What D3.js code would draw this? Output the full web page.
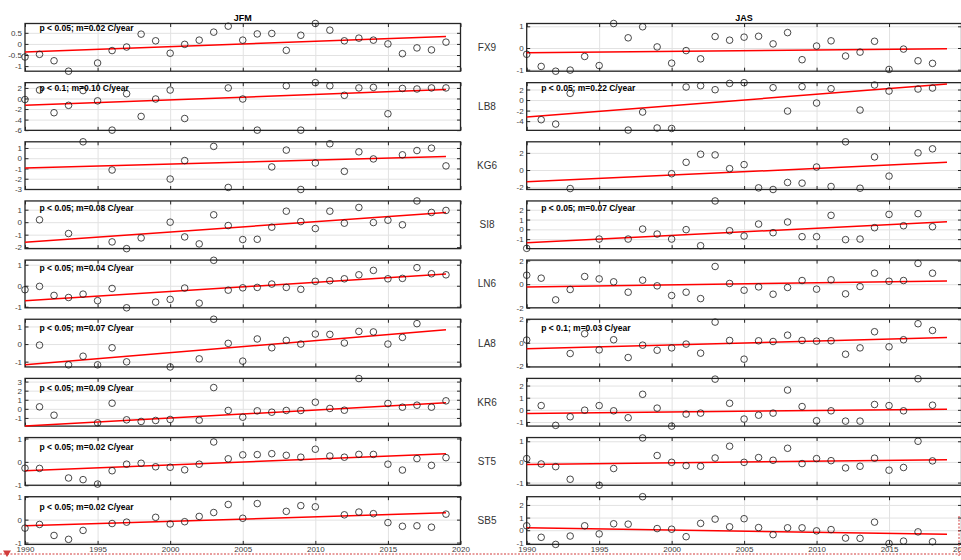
<!DOCTYPE html>
<html>
<head>
<meta charset="utf-8">
<script src="https://d3js.org/d3.v7.min.js"></script>
<style>
  body { margin: 0; background: #fff; }
  svg { display: block; font-family: "Liberation Sans", Arial, Helvetica, sans-serif; }
  .tick text { fill: #404040; font-size: 8px; }
</style>
</head>
<body>
<svg width="961" height="560"></svg>
<script>
// years on the x axis
var years = [1990, 1991, 1992, 1993, 1994, 1995, 1996, 1997, 1998, 1999,
             2000, 2001, 2002, 2003, 2004, 2005, 2006, 2007, 2008, 2009,
             2010, 2011, 2012, 2013, 2014, 2015, 2016, 2017, 2018, 2019];
var stations = ["FX9", "LB8", "KG6", "SI8", "LN6", "LA8", "KR6", "ST5", "SB5"];
var seasons = ["JFM", "JAS"];
var xTickYears = [1990, 1995, 2000, 2005, 2010, 2015, 2020];

// JFM anomalies (one value per year, null = no data)
var jfmFX9 = [-0.59, -0.47, -0.76, -1.23, null, -0.86, -0.30, -0.14, 0.44, 0.14, -0.42, -0.02, 0.17, 0.53, 0.80, 0.17, 0.45, 0.47, -0.29, 0.39, 0.92, 0.62, 0.14, 0.26, 0.17, 0.00, -0.44, -0.18, -0.27, 0.08];
var jfmLB8 = [-0.2, 1.6, -2.7, -1.3, 1.5, -0.45, -6.0, 0.9, -3.4, -0.1, 1.6, -3.8, null, null, 2.0, -0.1, -6.0, null, 2.4, -6.0, 3.0, 2.4, 0.6, 2.0, 2.1, -2.9, 1.9, 1.8, 2.0, 2.0];
var jfmKG6 = [null, null, null, null, 1.6, null, -1.15, null, null, null, -2.03, -0.23, null, 1.15, -2.85, null, null, -0.85, 0.79, -3.05, -0.46, 1.41, -1.28, 0.62, -0.07, null, 0.33, 0.75, 0.98, -0.75];
var jfmSI8 = [null, 0.19, null, -0.91, null, null, -1.58, -2.12, -1.26, null, 0.00, -1.18, -1.74, 0.59, -0.27, -1.39, -1.37, -0.40, 0.88, 0.05, -0.51, 0.88, -0.08, 1.18, -0.03, 0.16, -0.21, 1.70, 0.78, 0.94];
var jfmLN6 = [-0.19, -0.03, -0.46, -0.56, -0.40, -0.71, -0.13, -1.05, null, -0.78, -0.65, -0.11, -0.83, 1.21, -0.21, -0.10, -0.08, 0.08, -0.08, -0.17, 0.21, 0.24, 0.33, 0.52, 0.73, 0.33, 0.35, 0.86, 0.57, 0.52];
var jfmLA8 = [null, -0.06, null, -1.18, -0.69, -1.18, -0.21, -1.01, null, null, -1.30, null, -0.84, 1.41, 0.04, -0.97, 0.29, -0.21, 0.21, 0.00, 0.57, 0.55, 0.06, 0.72, 0.69, 0.00, 0.38, 1.16, null, null];
var jfmKR6 = [null, 0.22, -0.70, null, null, -1.54, 0.62, -1.21, -1.39, -1.28, -1.17, null, -1.25, 2.34, -0.18, -0.92, -0.22, -0.37, -0.18, -0.18, 0.73, 0.04, -0.15, 3.33, null, 0.59, 0.18, 0.40, 0.18, 0.88];
var jfmST5 = [-0.27, -0.28, null, -0.69, -0.76, -0.95, -0.38, -0.10, -0.06, -0.21, -0.23, -0.34, -0.10, 0.85, 0.13, 0.30, 0.31, 0.35, 0.28, 0.20, 0.54, 0.25, 0.20, 0.32, 0.32, -0.10, -0.35, 0.14, -0.15, 0.18];
var jfmSB5 = [-0.37, -0.21, -0.69, -0.86, -0.47, null, -0.17, -0.11, null, 0.10, -0.19, -0.09, 0.14, 0.31, 0.66, 0.06, 0.70, null, 0.36, 0.61, 0.56, null, 0.21, 0.33, 0.26, -0.13, -0.29, -0.27, -0.33, 0.24];

// JAS anomalies
var jasFX9 = [-0.29, -0.85, -1.07, -1.02, -0.39, -0.81, 1.13, 0.47, 0.98, 0.05, -0.70, -0.12, -0.50, 0.53, 0.36, 0.50, 0.54, 0.19, 0.71, -0.54, 0.09, 0.33, -0.37, -0.19, 0.31, -0.99, -0.05, -0.59, -0.71, null];
var jasLB8 = [null, -3.73, -4.56, 1.27, null, null, null, -5.7, -2.28, -5.3, -5.4, 2.47, 2.72, 1.96, 3.16, 3.29, null, 2.34, -2.09, 2.53, -0.57, 2.15, null, -1.90, 2.85, 1.71, null, 2.09, 2.28, null];
var jasKG6 = [null, null, null, -2.16, null, null, null, null, null, null, -0.43, 0.90, 1.84, 1.76, 0.16, 0.63, -2.08, -2.27, -1.45, -1.53, 0.35, -1.92, 3.29, -2.12, 1.53, -0.71, null, 2.00, 2.47, null];
var jasSI8 = [-1.94, null, null, null, null, -0.99, null, -0.99, 0.03, -0.48, -0.99, -0.03, -1.67, 2.90, -0.14, -0.68, 0.54, -0.34, 0.75, -0.75, -0.75, 1.43, -1.05, -0.99, 0.17, 1.53, 0.37, 1.60, 0.27, null];
var jasLN6 = [0.76, 0.51, -1.33, -0.45, 0.65, 0.45, 0.20, -0.68, 0.34, -0.14, -0.96, -0.68, -1.22, 1.50, 0.06, -0.51, -0.23, -0.85, -0.28, 0.31, -0.42, 0.37, -0.82, -0.20, 0.93, 0.25, 0.31, 1.76, 0.93, null];
var jasLA8 = [0.23, null, null, -0.91, 0.77, -0.60, 0.26, -1.25, -0.20, -0.63, -0.43, -0.11, -0.88, 1.76, 0.20, -1.39, 0.17, 0.11, 0.65, 0.20, 0.14, 0.17, -0.97, -0.43, 0.94, -0.34, 0.26, 1.62, 1.05, null];
var jasKR6 = [null, 0.35, -1.28, -0.57, -0.03, 0.35, -0.08, -0.65, 1.28, 0.14, -1.34, -0.35, -0.27, 2.53, 0.54, -0.76, -0.44, -0.27, 1.63, 0.27, -0.90, -0.08, -0.93, -0.93, 0.44, 0.35, -0.08, 2.56, 0.38, null];
var jasST5 = [0.16, -0.10, -0.23, -0.84, null, -1.13, -0.32, null, 1.16, 0.31, -0.02, -0.18, -0.21, 0.19, 0.76, -0.02, 0.21, 0.08, 0.66, -0.08, 0.16, 0.06, -0.29, -0.21, 0.18, -0.40, -0.27, 1.00, 0.05, null];
var jasSB5 = [0.35, -0.56, -1.12, -0.46, 0.35, -0.29, 0.51, 0.48, 2.65, 0.13, 0.08, -0.51, 0.54, 0.88, 0.27, 0.91, 0.21, -0.35, 0.19, 0.19, -0.05, 0.05, -0.62, -0.64, 0.64, -1.05, -0.86, -0.13, -0.91, null];

// fitted trend: value at 1990 and at 2019
var jfmTrend = [[-0.36, 0.33], [-1.3, 1.7], [-0.95, 0.16], [-1.61, 0.78], [-0.71, 0.56], [-1.18, 0.82], [-1.9, 0.66], [-0.38, 0.35], [-0.27, 0.30]];
var jasTrend = [[-0.22, -0.03], [-3.23, 3.04], [-1.37, 0.90], [-1.36, 0.78], [-0.23, 0.28], [-0.51, 0.45], [-0.30, 0.05], [-0.13, 0.11], [0.19, -0.32]];

// y limits and y ticks of each panel
var jfmYlim = [[-1.23, 0.92], [-6.04, 3.0], [-3.05, 1.6], [-2.12, 1.7], [-1.05, 1.22], [-1.30, 1.41], [-1.9, 3.35], [-1.0, 1.04], [-1.08, 1.0]];
var jasYlim = [[-1.07, 1.13], [-5.75, 3.3], [-2.27, 3.29], [-1.97, 2.9], [-2.0, 2.04], [-2.05, 2.0], [-1.34, 2.59], [-1.13, 1.18], [-1.12, 2.65]];
var jfmYticks = [[-1, -0.5, 0, 0.5], [-6, -4, -2, 0, 2], [-3, -2, -1, 0, 1], [-2, -1, 0, 1], [-1, 0, 1], [-1, 0, 1], [-1, 0, 1, 2, 3], [-1, 0, 1], [-1, 0, 1]];
var jasYticks = [[-1, 0, 1], [-4, -2, 0, 2], [-2, 0, 2], [-1, 0, 1, 2], [-2, 0, 2], [-2, 0, 2], [-1, 0, 1, 2], [-1, 0, 1], [-1, 0, 1, 2]];

// significance notes
var jfmNotes = ["p < 0.05; m=0.02 C/year", "p < 0.1; m=0.10 C/year", "", "p < 0.05; m=0.08 C/year", "p < 0.05; m=0.04 C/year",
                "p < 0.05; m=0.07 C/year", "p < 0.05; m=0.09 C/year", "p < 0.05; m=0.02 C/year", "p < 0.05; m=0.02 C/year"];
var jasNotes = ["", "p < 0.05; m=0.22 C/year", "", "p < 0.05; m=0.07 C/year", "", "p < 0.1; m=0.03 C/year", "", "", ""];

var jfmValues = [jfmFX9, jfmLB8, jfmKG6, jfmSI8, jfmLN6, jfmLA8, jfmKR6, jfmST5, jfmSB5];
var jasValues = [jasFX9, jasLB8, jasKG6, jasSI8, jasLN6, jasLA8, jasKR6, jasST5, jasSB5];

//----- layout -----
var svgwidth = 961, svgheight = 560;
var colRange = [[25, 460.5], [526.7, 961.5]];
var top0 = 23.5, pitch = 59.15, ph = 47.7;
var tickLen = 3.5;

var svg = d3.select("svg");
var fmt = function(d) { return String(d); };   // plain hyphen minus like MATLAB

function drawPanel(col, row, values, trend, ylim, yticks, note) {
  var top = top0 + row * pitch;
  var x = d3.scaleLinear().domain([1990, 2020]).range(colRange[col]);
  var y = d3.scaleLinear().domain(ylim).range([top + ph, top]);
  var x0 = colRange[col][0], x1 = colRange[col][1];
  var g = svg.append("g");

  // grid lines
  g.append("g")
    .attr("transform", "translate(0," + (top + ph) + ")")
    .call(d3.axisBottom(x).tickValues([1995, 2000, 2005, 2010, 2015]).tickSize(-ph).tickFormat(""))
    .call(function(s) { s.select(".domain").remove(); s.selectAll("line").attr("stroke", "#e2e2e2").attr("stroke-width", 1); });
  g.append("g")
    .attr("transform", "translate(" + x0 + ",0)")
    .call(d3.axisLeft(y).tickValues(yticks).tickSize(-(x1 - x0)).tickFormat(""))
    .call(function(s) { s.select(".domain").remove(); s.selectAll("line").attr("stroke", "#e2e2e2").attr("stroke-width", 1); });

  // inward ticks on all four sides
  var left = g.append("g")
    .attr("transform", "translate(" + x0 + ",0)")
    .call(d3.axisLeft(y).tickValues(yticks).tickSize(-tickLen).tickPadding(3).tickFormat(fmt));
  g.append("g")
    .attr("transform", "translate(" + x1 + ",0)")
    .call(d3.axisRight(y).tickValues(yticks).tickSize(-tickLen).tickFormat(""));
  g.append("g")
    .attr("transform", "translate(0," + top + ")")
    .call(d3.axisTop(x).tickValues(xTickYears).tickSize(-tickLen).tickFormat(""));
  var bottom = g.append("g")
    .attr("transform", "translate(0," + (top + ph) + ")")
    .call(d3.axisBottom(x).tickValues(xTickYears).tickSize(-tickLen).tickPadding(2)
      .tickFormat(row === stations.length - 1 ? fmt : ""));
  g.selectAll(".domain").remove();
  g.selectAll(".tick line").filter(function() { return d3.select(this).attr("stroke") === "currentColor"; })
    .attr("stroke", "#262626");
  g.selectAll(".tick text").attr("font-size", 8).attr("fill", "#404040")
    .attr("font-family", "Liberation Sans, Arial, sans-serif");

  // box
  g.append("rect")
    .attr("x", x0).attr("y", top)
    .attr("width", x1 - x0).attr("height", ph)
    .attr("fill", "none").attr("stroke", "#262626").attr("stroke-width", 1.3);

  // trend line
  var line = d3.line().x(function(d) { return x(d[0]); }).y(function(d) { return y(d[1]); });
  g.append("path")
    .datum([[years[0], trend[0]], [years[years.length - 1], trend[1]]])
    .attr("d", line)
    .attr("fill", "none").attr("stroke", "#ff0000").attr("stroke-width", 1.5);

  // yearly points
  var pts = years.map(function(yr, i) { return {year: yr, v: values[i]}; })
    .filter(function(d) { return d.v !== null; });
  g.selectAll("circle.pt")
    .data(pts)
    .enter().append("circle")
    .attr("class", "pt")
    .attr("cx", function(d) { return x(d.year); })
    .attr("cy", function(d) { return y(d.v); })
    .attr("r", 3.3)
    .attr("fill", "none").attr("stroke", "#1a1a1a").attr("stroke-width", 0.8);

  // note
  if (note) {
    g.append("text")
      .attr("x", x0 + 14.5)
      .attr("y", top + 5 + 0.7 * row)
      .attr("dy", "0.35em")
      .attr("font-size", 8.5).attr("font-weight", "bold").attr("fill", "#000")
      .text(note);
  }
}

for (var r = 0; r < stations.length; r++) {
  drawPanel(0, r, jfmValues[r], jfmTrend[r], jfmYlim[r], jfmYticks[r], jfmNotes[r]);
  drawPanel(1, r, jasValues[r], jasTrend[r], jasYlim[r], jasYticks[r], jasNotes[r]);

  // station name between the columns
  svg.append("text")
    .attr("x", 487).attr("y", top0 + r * pitch + ph / 2)
    .attr("dy", "0.35em").attr("text-anchor", "middle")
    .attr("font-size", 10).attr("fill", "#333")
    .text(stations[r]);
}

// season titles
seasons.forEach(function(s, i) {
  svg.append("text")
    .attr("x", (colRange[i][0] + colRange[i][1]) / 2 - (i === 1 ? 0 : 0))
    .attr("y", 21)
    .attr("text-anchor", "middle")
    .attr("font-size", 9).attr("font-weight", "bold").attr("fill", "#000")
    .text(s);
});

// red dotted selection border seen at the bottom of the picture
svg.append("line")
  .attr("x1", 0).attr("x2", svgwidth).attr("y1", 554).attr("y2", 554)
  .attr("stroke", "#d23c3c").attr("stroke-width", 1).attr("stroke-dasharray", "2,1.5");
svg.append("line")
  .attr("x1", 959).attr("x2", 959).attr("y1", 516).attr("y2", 556)
  .attr("stroke", "#d23c3c").attr("stroke-width", 1).attr("stroke-dasharray", "2,1.5");
svg.append("path")
  .attr("d", "M3,550.5 L11,550.5 L7,557 Z")
  .attr("fill", "#d23c3c");
</script>
</body>
</html>
